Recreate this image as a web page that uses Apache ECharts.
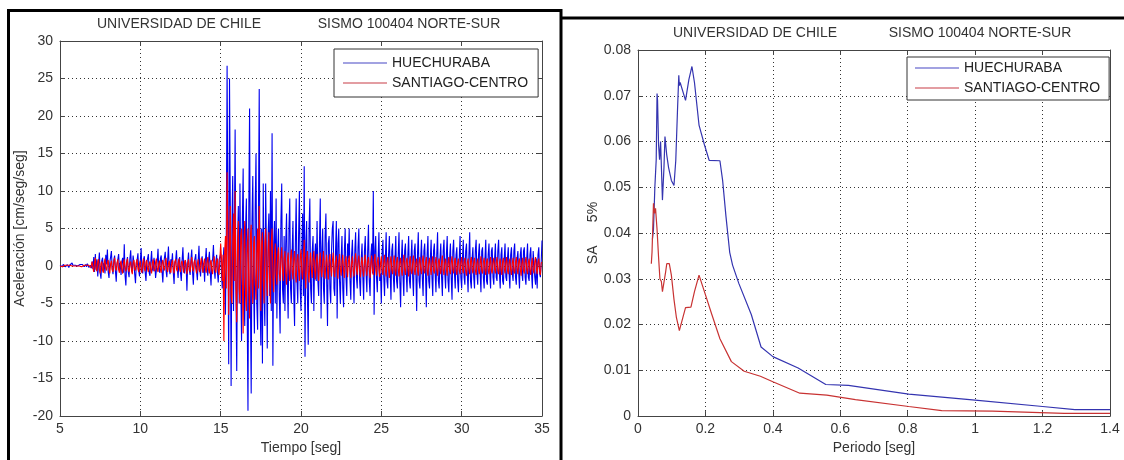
<!DOCTYPE html>
<html><head><meta charset="utf-8">
<script src="https://cdn.jsdelivr.net/npm/echarts@6/dist/echarts.min.js"></script>
<style>html,body{margin:0;padding:0;background:#fff;}#c{width:1124px;height:460px;}</style>
</head><body><div id="c"></div>
<script>
// ---- Left panel: acceleration time history (sampled every 0.05 s from 5 s; one row per second) ----
const timeStart = 5.0;
const timeStep = 0.05;
const huechurabaAcc = [
  0.1, 0.2, 0.0, -0.1, 0.2, 0.3, 0.1, -0.1, 0.0, 0.2, 0.1, -0.2, 0.1, 0.3, 0.2, 0.4, 0.1, 0.0, -0.1, 0.1,
  0.2, 0.1, 0.0, -0.2, 0.1, 0.2, 0.1, 0.3, 0.2, 0.0, -0.1, 0.1, 0.2, -0.1, 0.3, 0.1, -0.2, 0.0, 0.1, -0.3,
  0.6, -0.4, 1.2, -0.8, 1.6, -0.5, 0.9, -1.4, 0.3, 1.8, -0.9, -1.7, 0.7, 1.1, -0.6, 0.4, -1.0, 1.5, 0.2, 2.2,
  -0.8, -1.6, 0.5, 1.2, 2.0, -0.4, -1.1, 0.8, 1.4, -0.7, -2.1, 0.3, 0.9, 1.6, -0.5, 0.4, -1.2, 0.6, 1.1, -0.9,
  2.9, -1.3, -2.6, 0.6, 1.2, -0.8, -1.5, 1.0, 2.1, -0.3, -0.9, 1.4, 0.5, -1.1, -2.3, 0.4, 0.8, 1.7, -0.6, -1.4,
  0.7, 2.4, -0.5, -1.0, 0.9, 1.3, -0.8, -2.0, 0.4, 0.6, 1.6, -0.9, -1.3, 0.5, 2.0, -0.4, -0.7, 1.1, 0.3, -1.6,
  -1.8, 0.6, 2.3, -0.4, -0.9, 1.0, 1.4, -0.7, -2.2, 0.3, 0.5, 1.9, -0.6, -1.5, 0.8, 2.6, -0.5, -1.1, 0.9, 0.4,
  1.7, -0.8, -2.4, 0.5, 0.8, 2.1, -0.3, -1.6, 0.6, 1.2, -0.9, -2.0, 0.7, 2.5, -0.4, -1.0, 0.8, 0.3, -3.3, 0.5,
  1.8, -0.6, -1.2, 0.9, 2.2, -0.8, -2.5, 0.4, 1.0, 1.6, -0.7, -1.9, 0.6, 2.7, -0.5, -1.4, 0.8, 1.3, -0.9, 0.4,
  -2.1, 0.7, 2.4, -0.6, -1.3, 0.9, 1.9, -0.8, -2.6, 0.5, 0.9, 2.8, -0.4, -1.7, 0.6, 1.5, -0.9, -2.2, 0.8, 1.2,
  1.6, -0.8, -3.0, 0.6, 2.5, -1.2, -6.5, 4.0, 26.7, 6.0, -13.1, 25.0, 8.0, -16.0, 5.0, 12.0, -6.0, 4.0, 18.2, -3.0,
  -14.0, 3.0, 8.0, -5.0, 11.0, -2.0, -10.0, 6.0, 13.0, -4.0, -8.0, 5.0, 9.0, -6.0, -19.3, 7.0, 21.0, -4.0, -17.0, 6.0,
  12.0, -3.0, -9.0, 8.0, 15.0, -5.0, -8.5, 6.0, 23.6, -4.0, -10.6, 5.0, -13.0, 11.0, -3.0, -8.0, 11.0, 2.0, -11.0, 4.0,
  7.0, -4.0, 10.0, -6.0, 17.7, -13.3, 3.0, 6.0, -5.0, 9.0, -7.0, 2.0, 5.0, -4.0, -9.0, 6.0, 11.0, -3.0, -5.0, 4.0,
  -6.0, 3.0, 7.0, -2.0, -7.0, 5.0, 9.0, -3.0, -5.0, 2.0, 6.0, -4.0, -8.0, 3.0, 9.0, -2.0, -5.0, 4.0, 10.0, -3.0,
  -6.0, 2.0, 7.0, -4.0, 13.3, -12.1, 3.0, 6.0, -4.0, -10.5, 5.0, 9.0, -3.0, -5.0, 2.0, 4.0, -6.0, 1.0, 3.0, -2.0,
  6.0, -2.0, -4.0, 3.0, 9.0, -7.0, 2.0, 5.0, -3.0, -5.0, 4.0, 7.0, -2.0, -8.0, 3.0, 4.0, -3.0, -5.0, 2.0, 5.0,
  6.0, -3.0, -4.0, 2.0, 6.0, -7.0, 3.0, 5.0, -2.0, -5.0, 1.0, 4.0, -3.0, -5.5, 2.0, 5.0, -1.5, -4.0, 3.0, 1.0,
  5.0, -2.0, -4.5, 1.5, 3.5, -1.0, -5.0, 2.0, 4.5, -1.5, -3.0, 2.5, 5.0, -2.0, -4.0, 1.0, 3.0, -1.5, -4.5, 2.0,
  4.0, -1.0, -3.5, 2.0, 5.5, -2.0, -4.0, 1.5, 3.0, -1.0, 10.0, -6.5, 2.0, 4.0, -1.5, -3.5, 1.0, 4.5, -2.0, -1.0,
  -5.0, 2.0, 3.5, -1.5, -4.0, 1.0, 4.5, -2.0, -3.0, 1.5, 4.0, -1.0, -4.5, 2.0, 3.0, -1.5, -3.5, 1.0, 4.0, -2.0,
  -3.0, 1.5, 4.5, -2.0, -5.5, 1.0, 3.5, -1.5, -4.0, 2.0, 3.0, -1.0, -3.5, 1.5, 4.0, -2.0, -3.0, 1.0, 3.5, -1.5,
  -4.0, 2.0, 3.0, -1.0, -6.0, 1.5, 4.5, -2.0, -3.0, 1.0, 3.5, -1.5, -4.0, 2.0, 3.0, -1.0, -5.5, 1.5, 4.0, -2.0,
  -3.0, 1.0, 3.5, -1.5, -4.0, 2.0, 3.0, -1.0, -3.5, 1.5, 4.5, -2.0, -3.0, 1.0, 3.0, -1.5, -4.0, 2.0, 3.5, -1.0,
  -3.0, 1.5, 4.0, -2.0, -3.5, 1.0, 3.0, -1.5, -4.5, 2.0, 3.5, -1.0, -3.0, 1.5, 2.5, -2.0, -3.5, 1.0, 4.0, -1.5,
  -3.0, 1.0, 3.5, -1.5, -2.5, 2.0, 3.0, -1.0, -3.5, 1.5, 4.5, -2.0, -3.0, 1.0, 2.5, -1.5, -3.0, 2.0, 3.5, -1.0,
  -2.5, 1.5, 3.0, -1.0, -3.5, 2.0, 2.5, -1.5, -3.0, 1.0, 3.5, -2.0, -2.5, 1.5, 3.0, -1.0, -3.0, 2.0, 2.5, -1.5,
  -2.5, 1.0, 3.0, -1.5, -2.0, 2.0, 3.5, -1.0, -3.0, 1.5, 2.5, -2.0, -2.5, 1.0, 3.0, -1.5, -2.0, 1.0, 2.5, -1.0,
  -3.0, 1.5, 2.5, -1.0, -2.0, 2.0, 3.0, -1.5, -2.5, 1.0, 2.0, -1.0, -3.0, 1.5, 2.5, -1.0, -2.0, 2.0, 2.5, -1.5,
  -2.5, 1.0, 3.0, -1.5, -2.0, 1.5, 2.5, -1.0, -3.0, 2.0, 2.0, -1.5, -2.5, 1.0, -3.0, 1.5, 2.5, -1.0, -1.5, 0.5,
  3.4
];
const santiagoAcc = [
  0.0, 0.1, 0.0, -0.1, 0.1, 0.0, 0.1, -0.1, 0.0, 0.1, 0.0, -0.1, 0.1, 0.0, 0.1, 0.0, -0.1, 0.1, 0.0, -0.1,
  0.1, 0.0, -0.1, 0.1, 0.0, 0.1, 0.0, -0.1, 0.1, 0.0, 0.1, -0.1, 0.0, 0.1, 0.0, -0.1, 0.1, 0.0, -0.2, 0.1,
  0.6, -0.3, -0.8, 0.5, 1.1, -0.4, -0.7, 0.6, 0.9, -0.5, -1.0, 0.3, 0.6, -0.6, -0.9, 0.4, 1.0, -0.3, -0.6, 0.5,
  0.8, -0.4, -1.0, 0.3, 0.7, -0.5, -0.8, 0.6, 1.1, -0.3, -0.6, 0.4, 0.9, -0.5, -0.9, 0.3, 0.7, -0.6, -1.0, 0.4,
  0.9, -0.3, -0.7, 0.5, 1.0, -0.4, -0.8, 0.3, 0.6, -0.6, -1.1, 0.4, 0.8, -0.3, -0.6, 0.5, 0.9, -0.4, -0.8, 0.3,
  0.7, -0.5, -0.9, 0.4, 1.0, -0.3, -0.7, 0.5, 0.8, -0.4, -0.8, 0.3, 0.6, -0.5, -1.0, 0.4, 0.9, -0.3, -0.7, 0.5,
  1.0, -0.4, -0.8, 0.3, 0.7, -0.5, -0.9, 0.4, 0.8, -0.3, -0.6, 0.5, 1.1, -0.4, -0.8, 0.3, 0.7, -0.5, -0.9, 0.4,
  0.8, -0.3, -1.0, 0.5, 0.9, -0.4, -0.7, 0.3, 1.0, -0.5, -0.8, 0.4, 0.7, -0.3, -0.9, 0.5, 0.8, -0.4, -1.1, 0.3,
  0.9, -0.5, -0.8, 0.4, 1.2, -0.3, -0.7, 0.5, 0.8, -0.4, -1.0, 0.3, 0.9, -0.5, -0.8, 0.4, 1.1, -0.3, -0.9, 0.5,
  1.0, -0.4, -0.9, 0.5, 1.2, -0.5, -1.0, 0.4, 0.8, -0.6, -1.1, 0.5, 1.3, -0.4, -0.9, 0.6, 1.0, -0.5, -1.2, 0.8,
  3.0, 1.0, -2.0, 1.5, -10.0, 2.0, 4.0, -3.0, 12.5, 5.0, -6.5, 3.0, 8.0, -4.0, -5.0, 3.0, 7.0, -2.0, 10.0, -3.0,
  -7.5, 2.0, 6.0, -3.0, -5.0, 4.0, 5.0, -2.0, -9.0, 3.0, 6.0, -4.0, -6.0, 2.0, 5.0, -3.0, -7.0, 4.0, 5.5, -2.0,
  -5.0, 3.0, 4.0, -2.0, -4.5, 2.0, 5.0, -3.0, 8.0, 2.0, -6.0, 3.0, 4.5, -2.0, -5.0, 3.0, 5.0, -1.0, -4.0, 2.0,
  4.5, -2.0, -5.0, 3.0, 5.0, -1.5, -3.5, 1.0, 3.0, -1.0, -2.5, 1.5, 2.5, -1.0, -2.0, 1.0, 2.5, -0.5, -2.0, 1.0,
  2.0, -1.0, -2.5, 0.8, 1.8, -0.7, -2.0, 1.0, 2.2, -0.6, -1.8, 0.9, 2.0, -1.0, -2.2, 0.8, 1.6, -0.5, -2.0, 1.0,
  2.2, -0.8, -1.8, 1.0, 3.5, -0.5, -3.0, 1.0, 2.0, -0.8, -2.2, 0.7, 1.8, -0.6, -1.6, 0.8, 2.0, -0.7, -1.8, 0.6,
  1.6, -0.5, -2.0, 0.7, 1.8, -0.6, -1.5, 0.5, 2.0, -0.8, -1.7, 0.6, 1.5, -0.5, -1.8, 0.7, 1.6, -0.4, -1.4, 0.5,
  1.8, -0.6, -1.5, 0.5, 1.4, -0.4, -1.7, 0.6, 1.6, -0.5, -1.3, 0.4, 1.5, -0.6, -1.6, 0.5, 1.3, -0.4, -1.5, 0.6,
  1.4, -0.5, -1.6, 0.4, 1.3, -0.6, -1.4, 0.5, 1.7, -0.4, -1.2, 0.6, 1.4, -0.5, -1.5, 0.4, 1.2, -0.6, -1.4, 0.5,
  1.5, -0.4, -1.3, 0.6, 1.2, -0.5, -1.6, 0.4, 1.4, -0.6, -1.2, 0.5, 1.6, -0.4, -1.3, 0.5, 1.2, -0.6, -1.5, 0.4,
  1.3, -0.5, -1.2, 0.4, 1.5, -0.6, -1.4, 0.5, 1.2, -0.4, -1.6, 0.6, 1.3, -0.5, -1.1, 0.4, 1.4, -0.5, -1.3, 0.6,
  1.2, -0.4, -1.4, 0.5, 1.1, -0.6, -1.3, 0.4, 1.5, -0.5, -1.2, 0.6, 1.1, -0.4, -1.4, 0.5, 1.3, -0.6, -1.1, 0.4,
  1.4, -0.5, -1.2, 0.4, 1.0, -0.6, -1.3, 0.5, 1.2, -0.4, -1.1, 0.6, 1.4, -0.5, -1.0, 0.4, 1.2, -0.6, -1.3, 0.5,
  1.1, -0.4, -1.2, 0.5, 1.3, -0.6, -1.0, 0.4, 1.2, -0.5, -1.3, 0.6, 1.0, -0.4, -1.1, 0.5, 1.4, -0.6, -1.2, 0.4,
  1.0, -0.5, -1.3, 0.4, 1.2, -0.6, -1.1, 0.5, 1.3, -0.4, -1.0, 0.6, 1.1, -0.5, -1.2, 0.4, 1.0, -0.6, -1.1, 0.5,
  1.2, -0.4, -1.0, 0.5, 1.1, -0.6, -1.3, 0.4, 1.0, -0.5, -1.1, 0.6, 1.2, -0.4, -1.0, 0.5, 1.1, -0.6, -1.2, 0.4,
  1.0, -0.5, -1.1, 0.4, 1.3, -0.6, -1.0, 0.5, 1.1, -0.4, -1.2, 0.6, 1.0, -0.5, -1.1, 0.4, 1.2, -0.6, -1.0, 0.5,
  1.1, -0.4, -1.0, 0.5, 1.2, -0.6, -1.1, 0.4, 1.0, -0.5, -1.2, 0.6, 1.1, -0.4, -1.0, 0.5, 1.2, -0.6, -1.1, 0.4,
  1.0, -0.5, -1.2, 0.4, 1.1, -0.6, -1.0, 0.5, 1.2, -0.4, -1.1, 0.6, 1.0, -0.5, -1.3, 0.4, 1.1, -0.6, -1.0, 0.5,
  1.2, -0.4, -1.1, 0.5, 1.0, -0.6, -1.2, 0.4, 1.1, -0.5, -1.0, 0.6, 1.2, -0.4, -1.1, 0.5, 1.0, -0.6, -1.2, 0.4,
  0.5
];

// ---- Right panel: response spectra (5% damping) ----
const periodH = [0.0427, 0.0459, 0.050, 0.054, 0.0565, 0.058, 0.061, 0.064, 0.067, 0.0725, 0.077, 0.080, 0.085, 0.0907, 0.099, 0.1067, 0.112, 0.117, 0.121, 0.1227, 0.125, 0.141, 0.151, 0.160, 0.1675, 0.181, 0.197, 0.211, 0.243, 0.251, 0.261, 0.272, 0.2805, 0.299, 0.336, 0.365, 0.400, 0.475, 0.557, 0.624, 0.803, 1.000, 1.200, 1.296, 1.400];
const saH     = [0.0386, 0.0408, 0.0500, 0.0560, 0.0705, 0.0690, 0.0593, 0.0560, 0.0600, 0.0472, 0.0543, 0.0611, 0.0572, 0.0543, 0.0515, 0.0504, 0.0558, 0.0665, 0.0745, 0.0722, 0.0729, 0.0690, 0.0736, 0.0764, 0.0729, 0.0636, 0.0593, 0.0559, 0.0558, 0.0515, 0.0436, 0.0358, 0.0330, 0.0290, 0.0222, 0.0151, 0.0130, 0.0105, 0.0069, 0.0067, 0.0048, 0.0035, 0.0021, 0.0014, 0.0014];
const periodS = [0.0395, 0.0416, 0.0459, 0.049, 0.052, 0.0565, 0.061, 0.065, 0.0693, 0.0725, 0.0768, 0.082, 0.0853, 0.0928, 0.099, 0.1067, 0.114, 0.1227, 0.133, 0.141, 0.157, 0.1675, 0.181, 0.197, 0.219, 0.243, 0.277, 0.315, 0.363, 0.400, 0.480, 0.560, 0.645, 0.803, 0.901, 1.051, 1.264, 1.400];
const saS     = [0.0333, 0.0358, 0.0465, 0.0443, 0.0454, 0.0408, 0.0347, 0.0300, 0.0294, 0.0272, 0.0276, 0.0315, 0.0333, 0.0333, 0.0308, 0.0255, 0.0215, 0.0187, 0.0215, 0.0237, 0.0238, 0.0272, 0.0308, 0.0272, 0.0222, 0.0169, 0.0119, 0.0098, 0.0087, 0.0075, 0.0050, 0.0046, 0.0036, 0.0021, 0.0012, 0.0011, 0.0006, 0.0006];

const seriesNames = ['HUECHURABA', 'SANTIAGO-CENTRO'];
const titleLeft = 'UNIVERSIDAD DE CHILE';
const titleRight = 'SISMO 100404 NORTE-SUR';

const FONT = '"Liberation Sans", Arial, Helvetica, sans-serif';
const TXT = '#333';
const AX = '#444';

const accPairs = arr => arr.map((v, i) => [+(timeStart + i * timeStep).toFixed(3), v]);
const zipPairs = (xs, ys) => xs.map((x, i) => [x, ys[i]]);

function mainX(gi, min, max, interval, name, nameGap) {
  return {
    type: 'value', gridIndex: gi, position: 'bottom', min, max, interval,
    name, nameLocation: 'middle', nameGap,
    nameTextStyle: { fontFamily: FONT, fontSize: 14, color: TXT },
    axisLine: { show: true, onZero: false, lineStyle: { color: AX, width: 1 } },
    axisTick: { show: true, inside: true, length: 5, lineStyle: { color: AX } },
    axisLabel: { fontFamily: FONT, fontSize: 14, color: TXT, margin: 6 },
    splitLine: { show: true, lineStyle: { type: [1, 3], color: '#333', width: 1 } }
  };
}
function topX(gi, min, max, interval) {
  return {
    type: 'value', gridIndex: gi, position: 'top', min, max, interval,
    axisLine: { show: true, onZero: false, lineStyle: { color: AX, width: 1 } },
    axisTick: { show: true, inside: true, length: 5, lineStyle: { color: AX } },
    axisLabel: { show: false }, splitLine: { show: false }
  };
}
function mainY(gi, min, max, interval, name, nameGap) {
  return {
    type: 'value', gridIndex: gi, position: 'left', min, max, interval,
    name, nameLocation: 'middle', nameGap, nameRotate: 90,
    nameTextStyle: { fontFamily: FONT, fontSize: 14, color: TXT },
    axisLine: { show: true, onZero: false, lineStyle: { color: AX, width: 1 } },
    axisTick: { show: true, inside: true, length: 5, lineStyle: { color: AX } },
    axisLabel: { fontFamily: FONT, fontSize: 14, color: TXT, margin: 7 },
    splitLine: { show: true, lineStyle: { type: [1, 3], color: '#333', width: 1 } }
  };
}
function rightY(gi, min, max, interval) {
  return {
    type: 'value', gridIndex: gi, position: 'right', min, max, interval,
    axisLine: { show: true, onZero: false, lineStyle: { color: AX, width: 1 } },
    axisTick: { show: true, inside: true, length: 5, lineStyle: { color: AX } },
    axisLabel: { show: false }, splitLine: { show: false }
  };
}
const LINE_ICON = 'path://M0 0 H44 V1 H0 Z';
function legendAt(left, top, padding) {
  return {
    orient: 'vertical', left, top, padding, itemGap: 6, itemWidth: 44, itemHeight: 14,
    backgroundColor: '#fff', borderColor: '#333', borderWidth: 1, borderRadius: 0,
    selectedMode: false, symbolKeepAspect: true,
    textStyle: { fontFamily: FONT, fontSize: 14, color: '#222' },
    data: [
      { name: seriesNames[0], icon: LINE_ICON, itemStyle: { color: '#4646c4', borderWidth: 0 } },
      { name: seriesNames[1], icon: LINE_ICON, itemStyle: { color: '#c83c46', borderWidth: 0 } }
    ]
  };
}
function titleText(x, y, text) {
  return {
    type: 'text', x, y, silent: true,
    style: { text, fill: TXT, font: '14px ' + FONT, textAlign: 'center', textVerticalAlign: 'middle', align: 'center', verticalAlign: 'middle' }
  };
}

const chart = echarts.init(document.getElementById('c'), null, { renderer: 'canvas' });
chart.setOption({
  backgroundColor: '#fff',
  animation: false,
  grid: [
    { left: 60, top: 41, width: 482, height: 375 },
    { left: 638, top: 50, width: 472, height: 370 }
  ],
  xAxis: [
    mainX(0, 5, 35, 5, 'Tiempo [seg]', 24),
    topX(0, 5, 35, 5),
    mainX(1, 0, 1.4, 0.2, 'Periodo [seg]', 20),
    topX(1, 0, 1.4, 0.2)
  ],
  yAxis: [
    mainY(0, -20, 30, 5, 'Aceleración [cm/seg/seg]', 33),
    rightY(0, -20, 30, 5),
    mainY(1, 0, 0.08, 0.01, 'SA      5%', 37),
    rightY(1, 0, 0.08, 0.01)
  ],
  legend: [
    legendAt(334, 49, [7, 10, 7, 9]),
    legendAt(907, 57, [4, 9, 5, 8])
  ],
  graphic: { elements: [
    { type: 'rect', silent: true, shape: { x: 8.5, y: 10.5, width: 552.5, height: 470 }, style: { fill: 'none', stroke: '#000', lineWidth: 3 } },
    { type: 'line', silent: true, shape: { x1: 561, y1: 18, x2: 1130, y2: 18 }, style: { stroke: '#000', lineWidth: 3 } },
    titleText(179, 24, titleLeft),
    titleText(409, 24, titleRight),
    titleText(755, 33, titleLeft),
    titleText(980, 33, titleRight)
  ] },
  series: [
    { type: 'line', name: seriesNames[0], xAxisIndex: 0, yAxisIndex: 0, data: accPairs(huechurabaAcc),
      symbol: 'none', z: 2, lineStyle: { color: '#0000f0', width: 1.1 }, itemStyle: { color: '#0000f0' } },
    { type: 'line', name: seriesNames[1], xAxisIndex: 0, yAxisIndex: 0, data: accPairs(santiagoAcc),
      symbol: 'none', z: 3, lineStyle: { color: '#ff0000', width: 1.1 }, itemStyle: { color: '#ff0000' } },
    { type: 'line', name: seriesNames[0], xAxisIndex: 2, yAxisIndex: 2, data: zipPairs(periodH, saH),
      symbol: 'none', z: 2, lineStyle: { color: '#3434b0', width: 1.2 }, itemStyle: { color: '#3434b0' } },
    { type: 'line', name: seriesNames[1], xAxisIndex: 2, yAxisIndex: 2, data: zipPairs(periodS, saS),
      symbol: 'none', z: 2, lineStyle: { color: '#c83232', width: 1.2 }, itemStyle: { color: '#c83232' } }
  ]
});
</script></body></html>
